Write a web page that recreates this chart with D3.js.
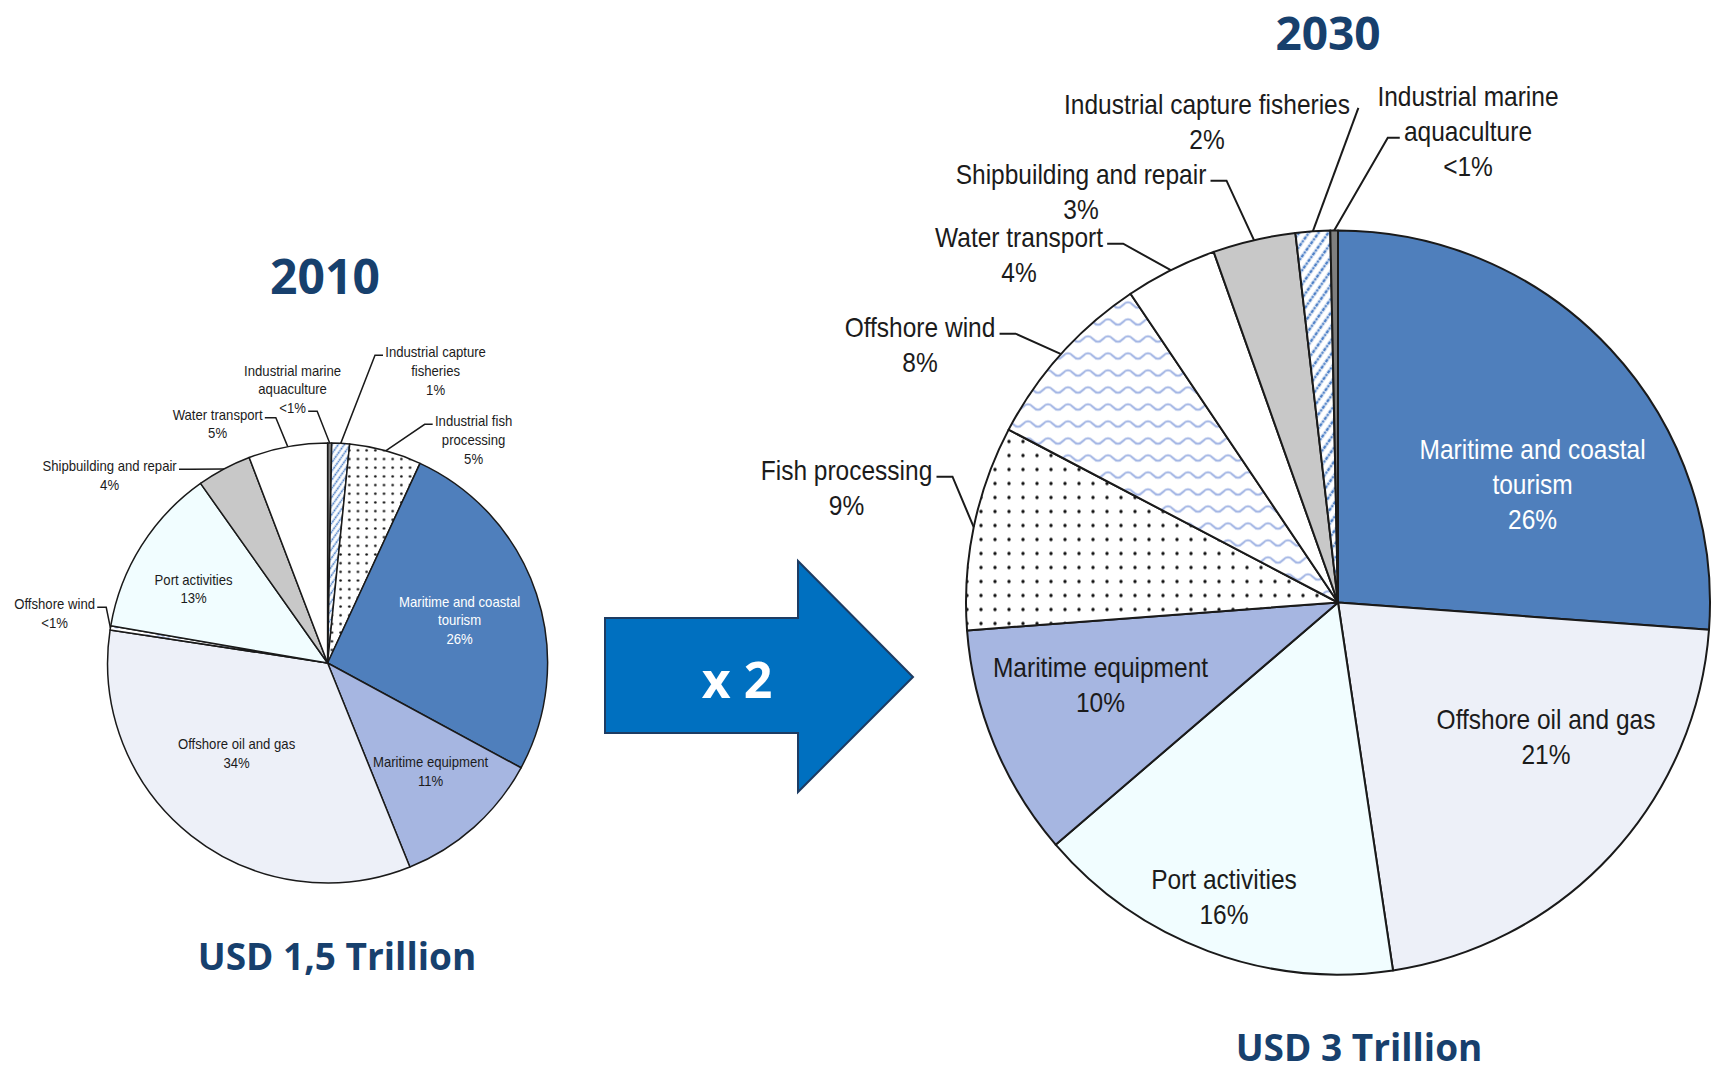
<!DOCTYPE html>
<html><head><meta charset="utf-8">
<script src="https://cdn.jsdelivr.net/npm/d3@7"></script>
<style>
html,body{margin:0;padding:0;background:#fff;}
svg{display:block;}
</style></head><body>
<svg id="chart" width="1724" height="1071"></svg>
<script>
// ---------- DATA ----------
const sectors2010 = ["Industrial marine aquaculture","Industrial capture fisheries","Industrial fish processing","Maritime and coastal tourism","Maritime equipment","Offshore oil and gas","Offshore wind","Port activities","Shipbuilding and repair","Water transport"];
const values2010 = [0.3, 1.3, 5.3, 26, 11, 33.5, 0.3, 12.5, 4, 5.8];
const pct2010 = ["<1%","1%","5%","26%","11%","34%","<1%","13%","4%","5%"];
const lines2010 = [["Industrial marine","aquaculture"],["Industrial capture","fisheries"],["Industrial fish","processing"],["Maritime and coastal","tourism"],["Maritime equipment"],["Offshore oil and gas"],["Offshore wind"],["Port activities"],["Shipbuilding and repair"],["Water transport"]];

const sectors2030 = ["Maritime and coastal tourism","Offshore oil and gas","Port activities","Maritime equipment","Fish processing","Offshore wind","Water transport","Shipbuilding and repair","Industrial capture fisheries","Industrial marine aquaculture"];
const values2030 = [26.2, 21.5, 16.1, 10.1, 8.9, 7.9, 4.0, 3.6, 1.5, 0.33];
const pct2030 = ["26%","21%","16%","10%","9%","8%","4%","3%","2%","<1%"];
const lines2030 = [["Maritime and coastal","tourism"],["Offshore oil and gas"],["Port activities"],["Maritime equipment"],["Fish processing"],["Offshore wind"],["Water transport"],["Shipbuilding and repair"],["Industrial capture fisheries"],["Industrial marine","aquaculture"]];

const years = ["2010","2030"];
const totals = ["USD 1,5 Trillion","USD 3 Trillion"];
const growthLabel = "x 2";

// ---------- STYLES / LAYOUT ----------
const TITLE_COLOR = "#17406d";
const LABEL_FONT = "'Liberation Sans',Arial,sans-serif";
const TITLE_FONT = "'Open Sans','Noto Sans',sans-serif";
const CONDENSE = 0.875;

const fillKind = {
  "Industrial marine aquaculture":"#7f7f7f",
  "Industrial capture fisheries":"hatch",
  "Industrial fish processing":"dots",
  "Fish processing":"dots",
  "Maritime and coastal tourism":"#4f7fbc",
  "Maritime equipment":"#a6b6e1",
  "Offshore oil and gas":"#edf0f8",
  "Offshore wind":"wave",
  "Port activities":"#f1fdff",
  "Shipbuilding and repair":"#c8c8c8",
  "Water transport":"#ffffff"
};

const pies = [
  { id:"p10", sectors:sectors2010, values:values2010, pct:pct2010, lines:lines2010,
    cx:327.6, cy:663, r:220, fs:15, lh:18.7, pscale:0.62, stroke:1.5,
    title:{x:325, y:294, size:48}, total:{x:337, y:970, size:37},
    labels:[
      {dx:-35, dy:-292.5, side:"right", line:2, tick:9},
      {dx:108, dy:-311, side:"left", line:0, tick:8},
      {dx:146, dy:-242, side:"left", line:0, tick:8},
      {dx:132, dy:-61.5, inside:true, color:"#ffffff"},
      {dx:103, dy:99, inside:true},
      {dx:-91, dy:81, inside:true},
      {dx:-273, dy:-59, side:"right", line:0, tick:9},
      {dx:-134, dy:-83.5, inside:true},
      {dx:-218, dy:-197, side:"right", line:0, tick:12},
      {dx:-110, dy:-248.5, side:"right", line:0, tick:11}
    ]},
  { id:"p30", sectors:sectors2030, values:values2030, pct:pct2030, lines:lines2030,
    cx:1338, cy:602.5, r:372, fs:28, lh:35, pscale:1, stroke:2,
    title:{x:1328, y:50, size:46}, total:{x:1359, y:1061, size:37},
    labels:[
      {dx:194.6, dy:-153, inside:true, color:"#ffffff"},
      {dx:208, dy:116.5, inside:true},
      {dx:-114, dy:277, inside:true},
      {dx:-237.5, dy:65, inside:true},
      {dx:-491.5, dy:-132, side:"right", line:0, tick:16},
      {dx:-418, dy:-275, side:"right", line:0, tick:16},
      {dx:-319, dy:-365, side:"right", line:0, tick:16},
      {dx:-257, dy:-428, side:"right", line:0, tick:16},
      {dx:-131, dy:-498, side:"right", line:0, tick:0},
      {dx:130, dy:-506, side:"left", line:1, tick:12}
    ]}
];

const svg = d3.select("#chart");
const defs = svg.append("defs");

// patterns per pie scale
pies.forEach(p => {
  const s = p.pscale;
  // dots
  const dsz = 14*s;
  const pd = defs.append("pattern").attr("id", p.id+"-dots").attr("patternUnits","userSpaceOnUse")
    .attr("width", dsz).attr("height", dsz);
  pd.append("rect").attr("width", dsz).attr("height", dsz).attr("fill","#fff");
  pd.append("circle").attr("cx", dsz/2).attr("cy", dsz/2).attr("r", 1.7*Math.max(s,0.75)).attr("fill","#111");
  // hatch
  const hs = 8*s;
  const ph = defs.append("pattern").attr("id", p.id+"-hatch").attr("patternUnits","userSpaceOnUse")
    .attr("width", hs).attr("height", hs).attr("patternTransform","rotate(35)");
  ph.append("rect").attr("width", hs).attr("height", hs).attr("fill","#fff");
  ph.append("line").attr("x1", hs/2).attr("x2", hs/2).attr("y1",0).attr("y2",hs)
    .attr("stroke","#4f81c7").attr("stroke-width", 2.6*s).attr("stroke-dasharray", (2.2*s)+" "+(1*s));
  // wave
  const ww = 20*s, wh = 17*s;
  const pw = defs.append("pattern").attr("id", p.id+"-wave").attr("patternUnits","userSpaceOnUse")
    .attr("width", ww).attr("height", wh);
  pw.append("rect").attr("width", ww).attr("height", wh).attr("fill","#fff");
  pw.append("path")
    .attr("d", `M0,${wh*0.66} Q${ww*0.125},${wh*0.66} ${ww*0.25},${wh*0.5} T${ww*0.5},${wh*0.34} T${ww*0.75},${wh*0.5} T${ww},${wh*0.66}`)
    .attr("fill","none").attr("stroke","#a2b5e4").attr("stroke-width", 2*s);
});

function fillFor(p, name){
  const k = fillKind[name];
  if (k === "dots" || k === "hatch" || k === "wave") return `url(#${p.id}-${k})`;
  return k;
}

pies.forEach((p, pi) => {
  const g = svg.append("g").attr("transform", `translate(${p.cx},${p.cy})`);
  const pie = d3.pie().sort(null).value(d => d)(p.values);
  const arc = d3.arc().innerRadius(0).outerRadius(p.r);
  g.selectAll("path.slice").data(pie).join("path")
    .attr("class","slice")
    .attr("d", arc)
    .attr("fill", (d,i) => fillFor(p, p.sectors[i]))
    .attr("stroke","#1a1a1a").attr("stroke-width", p.stroke).attr("stroke-linejoin","round");

  // labels
  const lg = g.append("g").attr("font-family", LABEL_FONT).attr("font-size", p.fs).attr("text-anchor","middle");
  pie.forEach((d,i) => {
    const L = p.labels[i];
    const allLines = p.lines[i].concat([p.pct[i]]);
    const widths = [];
    allLines.forEach((ln, j) => {
      const t = lg.append("text").attr("fill", L.color || "#1b1b1b")
        .attr("x", L.dx).attr("y", L.dy + j*p.lh).attr("dy","0.35em").text(ln);
      const w = t.node().getComputedTextLength()*CONDENSE;
      t.attr("textLength", w).attr("lengthAdjust","spacingAndGlyphs");
      widths.push(w);
    });
    if (!L.inside) {
      const w = widths[L.line];
      const ly = L.dy + L.line*p.lh + p.fs*0.22;
      const gap = p.fs*0.15;
      let sx, ex;
      if (L.side === "right") { sx = L.dx + w/2 + gap; ex = sx + L.tick; }
      else { sx = L.dx - w/2 - gap; ex = sx - L.tick; }
      const a = (d.startAngle + d.endAngle)/2;
      const px = p.r*Math.sin(a), py = -p.r*Math.cos(a);
      const pts = L.tick > 0 ? [[sx,ly],[ex,ly],[px,py]] : [[sx + gap,ly - p.fs*0.1],[px,py]];
      g.append("path").attr("d", d3.line()(pts)).attr("fill","none")
        .attr("stroke","#1a1a1a").attr("stroke-width", p.stroke);
    }
  });

  // titles
  svg.append("text").attr("x", p.title.x).attr("y", p.title.y).attr("text-anchor","middle")
    .attr("font-family", TITLE_FONT).attr("font-weight", 700).attr("font-size", p.title.size)
    .attr("fill", TITLE_COLOR).text(years[pi]);
  svg.append("text").attr("x", p.total.x).attr("y", p.total.y).attr("text-anchor","middle")
    .attr("font-family", TITLE_FONT).attr("font-weight", 700).attr("font-size", p.total.size)
    .attr("fill", TITLE_COLOR).text(totals[pi]);
});

// arrow
const arrow = [[605,618],[798,618],[798,561],[913,677],[798,792],[798,733],[605,733]];
svg.append("path").attr("d", d3.line()(arrow) + "Z")
  .attr("fill","#0070c0").attr("stroke","#1d3c63").attr("stroke-width",2).attr("stroke-linejoin","miter");
svg.append("text").attr("x",737).attr("y",698).attr("text-anchor","middle")
  .attr("font-family", TITLE_FONT).attr("font-weight",700).attr("font-size",50)
  .attr("fill","#fff").text(growthLabel);
</script>
</body></html>
